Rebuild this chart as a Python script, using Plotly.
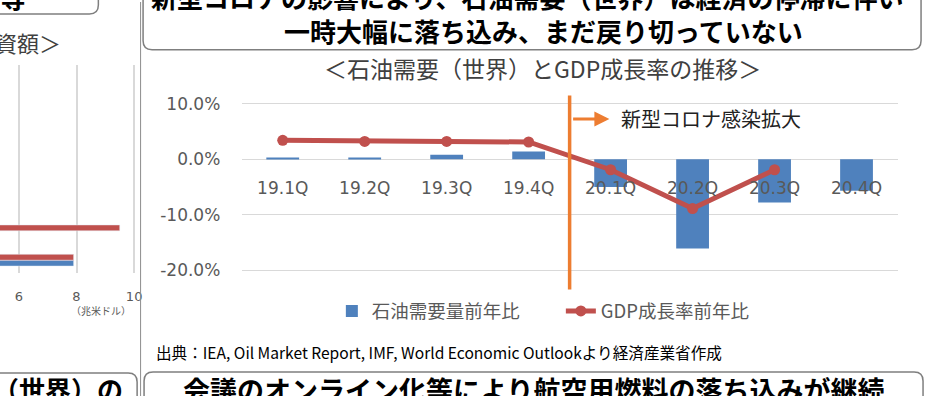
import plotly.graph_objects as go

# ---------------- data ----------------
quarters = ["19.1Q", "19.2Q", "19.3Q", "19.4Q", "20.1Q", "20.2Q", "20.3Q", "20.4Q"]
oil_demand_yoy = [0.3, 0.3, 0.8, 1.4, -5.0, -16.1, -7.8, -5.7]      # 石油需要量前年比 (%)
gdp_growth_yoy = [3.4, 3.2, 3.2, 3.1, -1.9, -8.9, -1.9, None]       # GDP成長率前年比 (%)
y_ticks = [-20, -10, 0, 10]
y_tick_labels = ["-20.0%", "-10.0%", "0.0%", "10.0%"]

# partial chart on the left (only the visible part)
left_cats = ["項目1", "項目2"]
left_blue = [7.9, None]
left_red = [7.9, 9.5]
left_ticks = [6, 8, 10]

W, H = 936, 396
def px(x):
    return x / W
def py(y):
    return 1 - y / H

BLUE = "#4F81BD"
RED = "#C0504D"
ORANGE = "#ED7D31"
GRAY = "#595959"
LAT = "DejaVu Sans, Noto Sans CJK JP"
CJK = "Noto Sans CJK JP"

fig = go.Figure()
fig.add_trace(go.Bar(x=quarters, y=oil_demand_yoy, name="石油需要量前年比",
                     marker=dict(color=BLUE, line=dict(width=0)), xaxis="x", yaxis="y"))
fig.add_trace(go.Scatter(x=quarters, y=gdp_growth_yoy, name="GDP成長率前年比",
                         mode="lines+markers", line=dict(color=RED, width=5),
                         marker=dict(size=11, color=RED), xaxis="x", yaxis="y"))
fig.add_trace(go.Bar(y=left_cats, x=left_blue, orientation="h", marker=dict(color=BLUE),
                     xaxis="x2", yaxis="y2", showlegend=False))
fig.add_trace(go.Bar(y=left_cats, x=left_red, orientation="h", marker=dict(color=RED),
                     xaxis="x2", yaxis="y2", showlegend=False))

zero_px = 158
scale = 5.577
ymax, ymin = 11.5, -23.5
top_px = zero_px - ymax * scale
bot_px = zero_px - ymin * scale

shapes = []
# orange vertical line between 19.4Q and 20.1Q
shapes.append(dict(type="line", xref="x", yref="y domain", x0=3.5, x1=3.5, y0=0, y1=1,
                   line=dict(color=ORANGE, width=3.5), layer="above"))
# separator
shapes.append(dict(type="line", xref="paper", yref="paper", x0=px(141.5), x1=px(141.5),
                   y0=py(0), y1=py(396), line=dict(color="#8c8c8c", width=1)))

box_line = dict(color="#7f7f7f", width=1.5)
def P(x, y):
    return f"{px(x):.5f},{py(y):.5f}"
r = 9
# top main box
shapes.append(dict(type="path", xref="paper", yref="paper", line=box_line,
                   path=f"M{P(144,-30)} L{P(144,48-r)} Q{P(144,48)} {P(144+r,48)} L{P(927-r,48)} Q{P(927,48)} {P(927,48-r)} L{P(927,-30)}"))
# top left box
shapes.append(dict(type="path", xref="paper", yref="paper", line=box_line,
                   path=f"M{P(-20,12)} L{P(99-r,12)} Q{P(99,12)} {P(99,12-r)} L{P(99,-30)}"))
# bottom left box
shapes.append(dict(type="path", xref="paper", yref="paper", line=box_line,
                   path=f"M{P(-20,373)} L{P(138-r,373)} Q{P(138,373)} {P(138,373+r)} L{P(138,430)}"))
# bottom right box
shapes.append(dict(type="path", xref="paper", yref="paper", line=box_line,
                   path=f"M{P(145,430)} L{P(145,372+r)} Q{P(145,372)} {P(145+r,372)} L{P(929-r,372)} Q{P(929,372)} {P(929,372+r)} L{P(929,430)}"))

ann = []
def text(t, x, y, size, color="#000000", xanchor="center", bold=False, family=CJK):
    ann.append(dict(text=f"<b>{t}</b>" if bold else t, x=px(x), y=py(y), xref="paper", yref="paper",
                    xanchor=xanchor, yanchor="middle", showarrow=False,
                    font=dict(size=size, color=color, family=family)))

text("新型コロナの影響により、石油需要（世界）は経済の停滞に伴い", 150, -6, 26, xanchor="left", bold=True)
text("一時大幅に落ち込み、まだ戻り切っていない", 547, 29, 26, bold=True)
text("等", 28, -6, 26, xanchor="right", bold=True)
text("資額＞", 63, 40, 22, color="#404040", xanchor="right")
text("＜石油需要（世界）とGDP成長率の推移＞", 546, 66, 23, color="#404040")
text("新型コロナ感染拡大", 623, 117, 20, color="#222222", xanchor="left")
text("出典：IEA, Oil Market Report, IMF, World Economic Outlookより経済産業省作成", 155, 352, 15.6, xanchor="left")
text("（世界）の", 126, 388, 26, xanchor="right", bold=True)
text("会議のオンライン化等により航空用燃料の落ち込みが継続", 537, 389, 27, bold=True)
text("（兆米ドル）", 102, 310, 10, color=GRAY)

# arrow
arrow_y = (zero_px - 117.7) / scale
ann.append(dict(x=3.5 + 40 / 82.5, y=arrow_y, ax=3.5 + 2 / 82.5, ay=arrow_y, xref="x", yref="y",
                axref="x", ayref="y", text="", showarrow=True, arrowhead=2, arrowsize=1,
                arrowwidth=3, arrowcolor=ORANGE, standoff=0, startstandoff=0))

fig.update_layout(
    width=W, height=H, margin=dict(l=0, r=0, t=0, b=0),
    paper_bgcolor="white", plot_bgcolor="rgba(0,0,0,0)",
    barmode="group", bargap=0.6,
    shapes=shapes, annotations=ann,
    showlegend=True,
    legend=dict(orientation="h", x=px(334), y=py(311), xanchor="left", yanchor="middle",
                entrywidth=184, entrywidthmode="pixels",
                font=dict(size=18.5, color=GRAY, family=CJK), bgcolor="rgba(0,0,0,0)"),
    xaxis=dict(domain=[px(243.3), px(903.3)], anchor="free", position=py(zero_px),
               type="category", showgrid=False, showline=False, zeroline=False,
               ticks="outside", ticklen=13, tickcolor="rgba(0,0,0,0)",
               tickfont=dict(size=17, color=GRAY, family=LAT)),
    yaxis=dict(domain=[py(bot_px), py(top_px)], range=[ymin, ymax], anchor="x",
               tickvals=y_ticks, ticktext=y_tick_labels,
               showgrid=True, gridcolor="#d9d9d9", gridwidth=1.3,
               zeroline=True, zerolinecolor="#d9d9d9", zerolinewidth=1.3,
               showline=False, ticks="outside", ticklen=17, tickcolor="rgba(0,0,0,0)",
               tickfont=dict(size=17, color=GRAY, family=LAT)),
    xaxis2=dict(domain=[0, px(137)], range=[6 - 19 / 29, 6 + 118 / 29], anchor="y2",
                tickvals=left_ticks, showgrid=True, gridcolor="#d9d9d9", gridwidth=1.8,
                zeroline=False, showline=False, ticks="outside", ticklen=12,
                tickcolor="rgba(0,0,0,0)", tickfont=dict(size=13, color=GRAY, family=LAT)),
    yaxis2=dict(domain=[py(272), py(63)], range=[-0.424, 6.66], anchor="x2", type="category",
                showticklabels=False, showgrid=False, zeroline=False, showline=False,
                categoryorder="array", categoryarray=left_cats),
)

fig.write_html("out.html", config={"displayModeBar": False},
               post_script="document.body.style.margin='0';document.body.style.overflow='hidden';")
